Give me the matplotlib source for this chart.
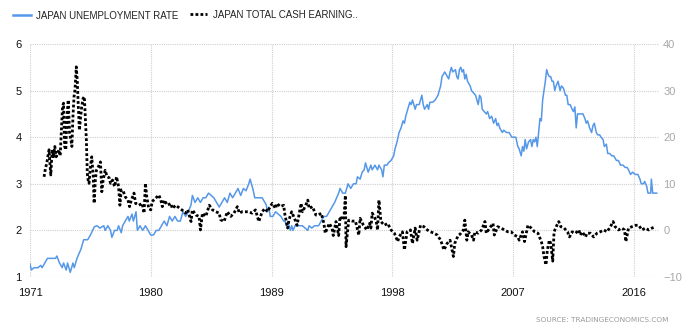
import matplotlib
matplotlib.use("Agg")
import matplotlib.pyplot as plt
from matplotlib.lines import Line2D

# Japan unemployment rate (%), left axis
unemp_dates = [
    1971.0, 1971.1, 1971.3, 1971.6, 1971.8, 1971.9, 1972.1, 1972.3, 1972.6, 1972.9,
    1973.0, 1973.2, 1973.4, 1973.5, 1973.7, 1973.8, 1973.9, 1974.0, 1974.2, 1974.3,
    1974.5, 1974.65, 1974.8, 1975.0, 1975.3, 1975.5, 1975.8, 1976.0, 1976.2, 1976.5,
    1976.6, 1976.8, 1977.0, 1977.1, 1977.3, 1977.5, 1977.6, 1977.8, 1977.9, 1978.1,
    1978.3, 1978.4, 1978.6, 1978.7, 1978.9, 1979.0, 1979.2, 1979.4, 1979.6, 1979.8,
    1980.0, 1980.2, 1980.4, 1980.6, 1980.8, 1981.0, 1981.2, 1981.4, 1981.6, 1981.8,
    1982.0, 1982.2, 1982.4, 1982.6, 1982.8, 1983.0, 1983.1, 1983.3, 1983.5, 1983.7,
    1983.9, 1984.1, 1984.3, 1984.5, 1984.7, 1984.9, 1985.1, 1985.3, 1985.5, 1985.7,
    1985.9, 1986.1, 1986.3, 1986.5, 1986.7, 1986.9, 1987.1, 1987.3, 1987.4, 1987.6,
    1987.75, 1988.0, 1988.3, 1988.5, 1988.6, 1988.7, 1988.8, 1988.9, 1989.1, 1989.3,
    1989.5, 1989.7, 1989.9, 1990.0, 1990.1, 1990.25, 1990.4, 1990.5, 1990.6, 1990.75,
    1991.0, 1991.3, 1991.5, 1991.7, 1991.8, 1992.0, 1992.2, 1992.5, 1992.7, 1992.9,
    1993.1, 1993.3, 1993.5, 1993.7, 1993.85, 1994.0, 1994.1, 1994.3, 1994.5, 1994.7,
    1994.9, 1995.1, 1995.3, 1995.4, 1995.6, 1995.75, 1995.9, 1996.0, 1996.2, 1996.4,
    1996.5, 1996.7, 1996.9, 1997.0, 1997.2, 1997.3, 1997.4, 1997.6, 1997.7, 1997.9,
    1998.1, 1998.2, 1998.35, 1998.5, 1998.65, 1998.8, 1998.9, 1999.0, 1999.15, 1999.3,
    1999.4, 1999.5, 1999.6, 1999.7, 1999.8, 2000.0, 2000.1, 2000.2, 2000.3, 2000.4,
    2000.5, 2000.6, 2000.7, 2000.8, 2001.0, 2001.2, 2001.4, 2001.6, 2001.7, 2001.8,
    2001.9, 2002.0, 2002.1, 2002.2, 2002.3, 2002.4, 2002.5, 2002.7, 2002.8, 2002.9,
    2003.0, 2003.1, 2003.2, 2003.3, 2003.4, 2003.5, 2003.6, 2003.7, 2003.8, 2003.9,
    2004.05, 2004.2, 2004.3, 2004.4, 2004.5, 2004.6, 2004.7, 2004.85, 2005.0, 2005.1,
    2005.25, 2005.4, 2005.55, 2005.7, 2005.8, 2005.9, 2006.0, 2006.2, 2006.3, 2006.5,
    2006.7, 2006.9, 2007.1, 2007.2, 2007.35, 2007.45, 2007.6, 2007.7, 2007.8, 2007.9,
    2008.0, 2008.15, 2008.3, 2008.4, 2008.5, 2008.6, 2008.7, 2008.8, 2008.9, 2009.0,
    2009.1, 2009.2, 2009.3, 2009.4, 2009.5, 2009.6, 2009.7, 2009.8, 2009.9, 2010.0,
    2010.1, 2010.2, 2010.35, 2010.5, 2010.6, 2010.75, 2010.9, 2011.0, 2011.1, 2011.25,
    2011.4, 2011.5, 2011.6, 2011.7, 2011.8, 2012.0, 2012.2, 2012.35, 2012.45, 2012.55,
    2012.7, 2012.85, 2012.95, 2013.05, 2013.2, 2013.3, 2013.45, 2013.55, 2013.7, 2013.8,
    2013.95, 2014.05, 2014.2, 2014.35, 2014.5, 2014.6, 2014.7, 2014.85, 2015.0, 2015.2,
    2015.35, 2015.5, 2015.6, 2015.75, 2015.9, 2016.1, 2016.3, 2016.45, 2016.55, 2016.7,
    2016.8, 2016.95, 2017.05, 2017.25, 2017.3, 2017.4, 2017.7,
]
unemp_vals = [
    1.28, 1.15, 1.2, 1.2, 1.25, 1.2, 1.3, 1.4, 1.4, 1.4,
    1.45, 1.3, 1.2, 1.3, 1.15, 1.3, 1.2, 1.1, 1.3, 1.2,
    1.4, 1.5, 1.6, 1.8, 1.8, 1.9, 2.08, 2.1, 2.05, 2.1,
    2.0, 2.1, 2.0, 1.85, 2.0, 2.0, 2.1, 1.95, 2.1, 2.2,
    2.3, 2.2, 2.35, 2.2, 2.4, 2.0, 2.1, 2.0, 2.1, 2.0,
    1.9, 1.9, 2.0, 2.0, 2.1, 2.2, 2.1, 2.3, 2.2, 2.3,
    2.2, 2.2, 2.4, 2.3, 2.4, 2.55, 2.75, 2.6, 2.7, 2.6,
    2.7, 2.7, 2.8, 2.75, 2.7, 2.6, 2.5, 2.6, 2.7, 2.6,
    2.8, 2.7, 2.8, 2.9, 2.75, 2.9, 2.85, 3.0, 3.1, 2.9,
    2.7, 2.7, 2.7, 2.6, 2.55, 2.4, 2.5, 2.3, 2.3, 2.4,
    2.35, 2.3, 2.2, 2.2, 2.1, 2.15, 2.0, 2.1, 2.0, 2.1,
    2.1, 2.1, 2.05, 2.0, 2.1, 2.05, 2.1, 2.1, 2.2, 2.3,
    2.3, 2.4, 2.5, 2.6, 2.7, 2.8, 2.9, 2.8, 2.8, 3.0,
    2.9, 3.0, 3.0, 3.15, 3.1, 3.25, 3.3, 3.45, 3.25, 3.4,
    3.3, 3.4, 3.3, 3.4, 3.3, 3.15, 3.4, 3.4, 3.45, 3.5,
    3.6, 3.75, 3.9, 4.1, 4.2, 4.35, 4.3, 4.45, 4.6, 4.75,
    4.7, 4.8, 4.7, 4.6, 4.7, 4.7, 4.8, 4.9, 4.7, 4.6,
    4.65, 4.7, 4.6, 4.75, 4.75, 4.8, 4.9, 5.1, 5.3, 5.35,
    5.4, 5.35, 5.3, 5.25, 5.4, 5.5, 5.4, 5.45, 5.3, 5.25,
    5.45, 5.5, 5.4, 5.45, 5.25, 5.35, 5.2, 5.15, 5.1, 5.0,
    4.95, 4.9, 4.8, 4.7, 4.9, 4.85, 4.6, 4.55, 4.5, 4.55,
    4.4, 4.45, 4.3, 4.4, 4.25, 4.3, 4.2, 4.1, 4.15, 4.1,
    4.1, 4.0, 4.0, 4.0, 3.8, 3.75, 3.6, 3.8, 3.7, 3.95,
    3.75, 3.9, 3.95, 3.8, 3.95, 3.9, 4.0, 3.8, 4.1, 4.4,
    4.35, 4.8, 5.0, 5.2, 5.45, 5.35, 5.3, 5.3, 5.2, 5.2,
    5.0, 5.1, 5.2, 5.0, 5.1, 5.05, 4.9, 4.9, 4.7, 4.7,
    4.6, 4.55, 4.65, 4.2, 4.5, 4.5, 4.5, 4.4, 4.3, 4.35,
    4.2, 4.1, 4.25, 4.3, 4.1, 4.05, 4.05, 4.0, 3.95, 3.8,
    3.85, 3.65, 3.65, 3.6, 3.6, 3.55, 3.5, 3.5, 3.4, 3.4,
    3.35, 3.35, 3.3, 3.2, 3.25, 3.2, 3.2, 3.1, 3.0, 3.0,
    3.05, 2.95, 2.8, 2.8, 3.1, 2.8, 2.8,
]

# Japan total cash earnings (% YoY), right axis
earn_dates = [
    1972.05, 1972.15, 1972.25, 1972.35, 1972.42, 1972.5, 1972.55, 1972.65, 1972.75, 1972.85,
    1972.95, 1973.05, 1973.15, 1973.25, 1973.35, 1973.42, 1973.5, 1973.58, 1973.67, 1973.75,
    1973.85, 1973.95, 1974.05, 1974.12, 1974.2, 1974.28, 1974.35, 1974.45, 1974.52, 1974.6,
    1974.68, 1974.75, 1974.85, 1974.95, 1975.05, 1975.12, 1975.2, 1975.27, 1975.33, 1975.4,
    1975.5, 1975.6, 1975.7, 1975.78, 1975.87, 1975.95, 1976.1, 1976.25, 1976.35, 1976.45,
    1976.6, 1976.75, 1976.9, 1977.0, 1977.15, 1977.3, 1977.45, 1977.6, 1977.7, 1977.8,
    1977.95, 1978.1, 1978.3, 1978.42, 1978.55, 1978.75, 1978.87, 1979.1, 1979.36, 1979.5,
    1979.6, 1979.7, 1979.85, 1980.0, 1980.1, 1980.36, 1980.6, 1980.75, 1980.86, 1981.0,
    1981.24, 1981.5, 1981.6, 1981.86, 1982.0, 1982.2, 1982.5, 1982.6, 1982.75, 1983.0,
    1983.1, 1983.36, 1983.6, 1983.7, 1983.85, 1984.1, 1984.36, 1984.6, 1984.85, 1985.1,
    1985.2, 1985.46, 1985.7, 1985.96, 1986.2, 1986.45, 1986.6, 1986.8, 1987.1, 1987.3,
    1987.55, 1987.8, 1988.05, 1988.3, 1988.5, 1988.7, 1988.9, 1989.05, 1989.3, 1989.4,
    1989.65, 1989.9, 1990.0, 1990.2, 1990.3, 1990.5, 1990.8, 1990.9, 1991.2, 1991.3,
    1991.5, 1991.7, 1991.8, 1992.05, 1992.3, 1992.5, 1992.7, 1992.9, 1993.0, 1993.3,
    1993.5, 1993.6, 1993.8, 1994.0, 1994.1, 1994.27, 1994.4, 1994.5, 1994.55, 1994.75,
    1995.0, 1995.25, 1995.5, 1995.6, 1995.85, 1996.1, 1996.3, 1996.4, 1996.5, 1996.65,
    1996.8, 1996.9, 1997.0, 1997.15, 1997.4, 1997.65, 1997.9, 1998.15, 1998.4, 1998.5,
    1998.75, 1998.9, 1999.1, 1999.35, 1999.5, 1999.7, 1999.85, 2000.1, 2000.35, 2000.6,
    2000.85, 2001.1, 2001.35, 2001.6, 2001.85, 2002.08, 2002.3, 2002.55, 2002.65, 2002.9,
    2003.05, 2003.3, 2003.4, 2003.55, 2003.65, 2003.9, 2004.05, 2004.15, 2004.4, 2004.65,
    2004.9, 2005.0, 2005.25, 2005.5, 2005.6, 2005.85, 2006.1, 2006.35, 2006.6, 2006.85,
    2007.1, 2007.35, 2007.45, 2007.7, 2007.85, 2008.1, 2008.35, 2008.6, 2008.85, 2009.1,
    2009.2, 2009.3, 2009.45, 2009.55, 2009.7, 2009.8, 2009.95, 2010.05, 2010.26, 2010.4,
    2010.55, 2010.8, 2011.05, 2011.2, 2011.4, 2011.65, 2011.9, 2012.0, 2012.15, 2012.4,
    2012.5, 2012.75, 2013.0, 2013.25, 2013.5, 2013.75, 2014.0, 2014.25, 2014.45, 2014.6,
    2014.85, 2015.1, 2015.3, 2015.4, 2015.6, 2015.85, 2016.15, 2016.35, 2016.6, 2016.85,
    2017.1, 2017.35, 2017.6,
]
earn_vals = [
    11.5, 13.3, 14.4, 16.2, 17.3, 13.7, 11.9, 17.3, 15.8, 18.0,
    15.8, 16.5, 17.3, 16.0, 22.3, 26.5, 27.3, 18.0, 17.3, 24.4,
    28.0, 20.8, 19.4, 18.0, 24.4, 28.7, 30.1, 35.1, 32.3, 26.5,
    21.5, 23.7, 26.5, 28.3, 28.7, 24.4, 19.4, 12.2, 10.8, 10.1,
    13.7, 15.8, 12.2, 5.8, 10.8, 12.9, 13.7, 14.7, 8.3, 10.8,
    12.9, 11.5, 11.3, 10.1, 10.8, 9.4, 11.5, 9.4, 5.4, 8.7,
    8.4, 7.2, 6.5, 5.1, 6.5, 8.0, 5.8, 5.4, 5.8, 3.7,
    10.1, 7.2, 4.7, 4.4, 6.2, 6.9, 7.6, 6.5, 5.1, 6.5,
    5.4, 5.8, 4.7, 5.4, 5.1, 4.7, 4.0, 3.7, 4.4, 1.9,
    4.4, 3.3, 3.0, 0.1, 3.7, 3.0, 5.4, 4.4, 4.0, 3.7,
    2.3, 1.9, 4.0, 3.0, 3.7, 5.1, 3.7, 4.0, 4.0, 4.0,
    3.7, 4.4, 1.9, 4.0, 4.7, 4.0, 5.1, 5.8, 4.7, 5.8,
    5.1, 5.4, 3.3, 0.5, 2.3, 4.0, 1.9, 1.1, 5.8, 4.0,
    5.1, 6.5, 4.7, 5.1, 3.3, 3.3, 3.7, 1.5, -0.6, 1.5,
    0.5, -1.1, 1.9, -1.1, 3.0, 2.2, 3.0, 7.5, -3.5, 2.2,
    2.0, 2.0, -1.0, 2.6, 1.1, 0.1, 1.5, 0.5, 3.7, 3.0,
    1.9, 0.1, 6.5, 1.9, 1.1, 1.5, 0.1, -0.6, -2.4, -1.4,
    -0.3, -4.2, -0.3, 0.1, -2.8, 0.5, -2.1, 1.1, 0.8, 0.1,
    -0.3, -0.6, -1.0, -2.1, -4.2, -2.8, -2.1, -5.6, -2.8, -1.1,
    -0.8, 0.1, 2.2, -2.1, -0.3, -1.0, -2.1, -0.3, -0.6, 0.1,
    1.9, -0.6, 0.5, 1.5, -1.0, 0.8, 0.5, 0.1, -0.3, -0.3,
    -1.0, -1.4, -2.1, -0.3, -2.4, 1.1, 0.5, -0.3, -0.6, -2.4,
    -3.5, -5.6, -7.4, -4.2, -2.1, -2.8, -6.6, -0.3, 1.1, 1.9,
    0.8, 0.5, -0.3, -1.4, -0.3, -0.6, 0.1, -1.0, -0.3, -1.4,
    -0.6, -0.6, -1.4, -0.6, -0.3, 0.1, -0.3, 0.8, 1.9, 0.8,
    0.1, 0.5, 0.1, -2.4, 0.5, 0.8, 1.1, 1.1, 0.1, 0.5,
    0.1, 0.5, 0.8,
]

year_ticks = [1971, 1980, 1989, 1998, 2007, 2016]
left_ticks = [1, 2, 3, 4, 5, 6]
right_ticks = [-10, 0, 10, 20, 30, 40]

blue = "#5597e8"
grid_col = "#cfcfcf"

fig = plt.figure(figsize=(6.85, 3.34), dpi=100)
ax = fig.add_axes([30 / 685, 1 - 277 / 334, 629 / 685, 233 / 334])
ax2 = ax.twinx()

ax.plot(unemp_dates, unemp_vals, color=blue, linewidth=1.1, zorder=3)
ax2.plot(earn_dates, earn_vals, color="black", linewidth=2.0,
         linestyle=(0, (1, 0.8)), dash_capstyle="butt", zorder=4)

ax.set_xlim(1971, 2017.87)
ax.set_ylim(1, 6)
ax2.set_ylim(-10, 40)
ax.set_xticks(year_ticks)
ax.set_yticks(left_ticks)
ax2.set_yticks(right_ticks)

ax.grid(True, color=grid_col, linestyle=(0, (1, 1)), linewidth=0.8)
ax.set_axisbelow(True)

for a in (ax, ax2):
    for s in a.spines.values():
        s.set_visible(False)
    a.tick_params(length=0)

ax.tick_params(axis="y", labelsize=8, labelcolor="#111111", pad=6)
ax.tick_params(axis="x", labelsize=8, labelcolor="#111111", pad=8)
ax2.tick_params(axis="y", labelsize=8, labelcolor="#a8a8a8", pad=3)
for lab in ax.get_xticklabels() + ax.get_yticklabels() + ax2.get_yticklabels():
    lab.set_fontfamily("Liberation Sans")

# legend drawn at the top of the figure
fig.add_artist(Line2D([13 / 685, 31 / 685], [1 - 15 / 334, 1 - 15 / 334],
                      transform=fig.transFigure, color=blue, linewidth=1.8))
fig.text(36 / 685, 1 - 16 / 334, "JAPAN UNEMPLOYMENT RATE", fontsize=7,
         family="Liberation Sans", color="#222222", va="center", ha="left")
fig.add_artist(Line2D([190 / 685, 207 / 685], [1 - 14 / 334, 1 - 14 / 334],
                      transform=fig.transFigure, color="black", linewidth=2.0,
                      linestyle=(0, (1, 0.8))))
fig.text(213 / 685, 1 - 15 / 334, "JAPAN TOTAL CASH EARNING..", fontsize=7,
         family="Liberation Sans", color="#222222", va="center", ha="left")

fig.text(668 / 685, 1 - 320 / 334, "SOURCE: TRADINGECONOMICS.COM", fontsize=5.3,
         color="#9a9a9a", va="center", ha="right")

fig.savefig("out.png", dpi=100)
